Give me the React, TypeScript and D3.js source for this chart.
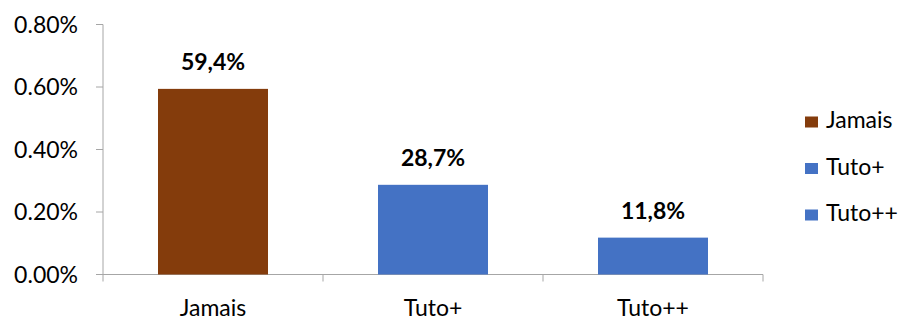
import React from "react";
import * as d3 from "d3";

const categories = ["Jamais", "Tuto+", "Tuto++"];
const values = [0.594, 0.287, 0.118];
const valueLabels = ["59,4%", "28,7%", "11,8%"];
const colors = ["#843C0C", "#4472C4", "#4472C4"];
const yTicks = [0, 0.2, 0.4, 0.6, 0.8];

const W = 903;
const H = 320;
const FONT = "Lato, 'Open Sans', sans-serif";

export default function App() {
  const margin = { left: 103, right: 140, top: 24.5, bottom: 45.5 };
  const x = d3
    .scaleBand<string>()
    .domain(categories)
    .range([margin.left, W - margin.right])
    .paddingInner(0.5)
    .paddingOuter(0.25);
  const y = d3.scaleLinear().domain([0, 0.8]).range([H - margin.bottom, margin.top]);
  const step = x.step();
  const x0 = margin.left;
  const x1 = margin.left + step * categories.length;
  const y0 = y(0);

  return (
    <svg width={W} height={H} style={{ position: "absolute", left: 0, top: 0, fontFamily: FONT }}>
      <rect width={W} height={H} fill="#fff" />
      {/* y axis */}
      <line x1={x0} x2={x0} y1={y(0.8)} y2={y0} stroke="#a6a6a6" strokeWidth={1} />
      {yTicks.map((t) => (
        <g key={t}>
          <line x1={x0 - 7} x2={x0} y1={y(t)} y2={y(t)} stroke="#a6a6a6" />
          <text x={x0 - 25} y={y(t)} dy="0.36em" textAnchor="end" fontSize={23} fill="#000">
            {d3.format(".2f")(t) + "%"}
          </text>
        </g>
      ))}
      {/* x axis */}
      <line x1={x0} x2={x1} y1={y0} y2={y0} stroke="#a6a6a6" />
      {d3.range(categories.length + 1).map((i) => (
        <line key={i} x1={x0 + i * step} x2={x0 + i * step} y1={y0} y2={y0 + 7} stroke="#a6a6a6" />
      ))}
      {categories.map((c, i) => (
        <g key={c}>
          <rect x={x(c)} y={y(values[i])} width={x.bandwidth()} height={y0 - y(values[i])} fill={colors[i]} />
          <text
            x={(x(c) as number) + x.bandwidth() / 2}
            y={y(values[i]) - 19}
            textAnchor="middle"
            fontSize={23}
            fontWeight="bold"
            fill="#000"
          >
            {valueLabels[i]}
          </text>
          <text x={(x(c) as number) + x.bandwidth() / 2} y={y0 + 41} textAnchor="middle" fontSize={23} fill="#000">
            {c}
          </text>
        </g>
      ))}
      {/* legend */}
      {categories.map((c, i) => (
        <g key={"lg" + c} transform={`translate(805, ${116.5 + i * 46.5})`}>
          <rect x={0} y={0} width={13} height={11} fill={colors[i]} />
          <text x={21} y={11.5} fontSize={23} fill="#000">
            {c}
          </text>
        </g>
      ))}
    </svg>
  );
}
